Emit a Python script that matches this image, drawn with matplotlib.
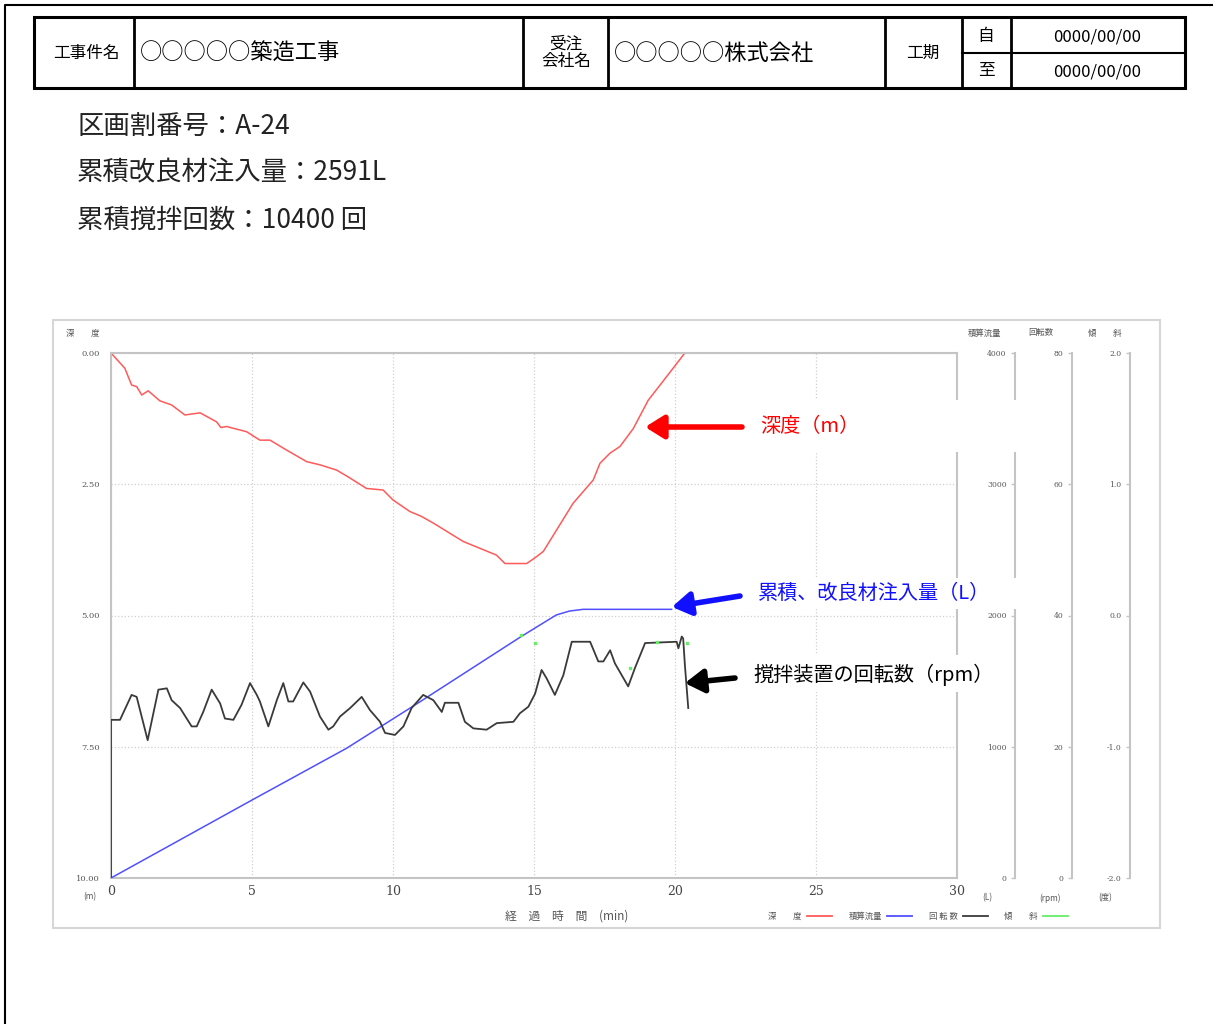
import matplotlib
matplotlib.use("Agg")
import matplotlib.pyplot as plt
from matplotlib.patches import Rectangle
from matplotlib.lines import Line2D

plt.rcParams['font.family'] = ['Noto Sans CJK JP', 'DejaVu Sans']

# depth (m) vs elapsed time (min)
depth_t = [0, 0.49, 0.73, 0.91, 1.09, 1.32, 1.73, 2.15, 2.62, 3.16, 3.74, 3.9, 4.10, 4.81,
           5.28, 5.64, 6.23, 6.94, 7.41, 8.0, 8.41, 9.06, 9.65, 10.0, 10.6, 11.0, 11.43,
           12.49, 13.67, 13.97, 14.74, 15.09, 15.33, 16.39, 17.10, 17.34, 17.69, 18.05,
           18.52, 19.05, 19.5, 20.35]
depth = [0, 0.29, 0.61, 0.64, 0.80, 0.72, 0.91, 0.99, 1.18, 1.14, 1.31, 1.42, 1.40, 1.50,
         1.66, 1.66, 1.85, 2.07, 2.13, 2.23, 2.36, 2.58, 2.61, 2.80, 3.02, 3.11, 3.24,
         3.59, 3.85, 4.01, 4.01, 3.88, 3.78, 2.86, 2.42, 2.10, 1.91, 1.78,
         1.44, 0.90, 0.59, 0]

# cumulative injected volume (L)
vol_t = [0, 5.0, 8.35, 10.96, 14.54, 15.79, 16.26, 16.74, 19.88]
vol = [0, 594, 988, 1343, 1839, 2004, 2034, 2047, 2047]

# mixer rotation (rpm)
rpm_t = [0, 0, 0.32, 0.73, 0.91, 1.30, 1.68, 1.98, 2.15, 2.45, 2.86, 3.04, 3.27, 3.57,
         3.87, 4.04, 4.34, 4.63, 4.93, 5.17, 5.28, 5.58, 5.88, 6.11, 6.29, 6.46, 6.82,
         7.06, 7.41, 7.71, 7.88, 8.12, 8.48, 8.89, 9.18, 9.54, 9.72, 10.07, 10.37, 10.66,
         11.07, 11.43, 11.73, 11.84, 12.32, 12.55, 12.85, 13.32, 13.68, 14.27, 14.50,
         14.80, 15.04, 15.27, 15.45, 15.74, 16.04, 16.34, 16.99, 17.28, 17.46, 17.70,
         17.87, 18.34, 18.58, 18.94, 20.06, 20.12, 20.24, 20.29, 20.35, 20.47]
rpm = [0, 24.1, 24.1, 27.9, 27.6, 21.0, 28.7, 28.9, 27.1, 25.9, 23.1, 23.1, 25.3, 28.7,
       26.6, 24.3, 24.1, 26.4, 29.7, 27.9, 26.9, 23.1, 27.1, 29.7, 26.9, 26.9, 29.8,
       28.4, 24.6, 22.6, 23.1, 24.6, 25.9, 27.6, 25.6, 23.8, 22.1, 21.8, 23.1, 25.9,
       27.9, 27.1, 25.3, 26.7, 26.7, 23.8, 22.8, 22.6, 23.6, 23.8, 25.1,
       26.1, 28.1, 31.7, 30.4, 27.9, 30.9, 36.0, 36.0, 33.0, 33.0, 34.7,
       32.7, 29.2, 32.0, 35.8, 36.0, 35.0, 36.8, 36.5, 32.5, 25.9]

# tilt (deg)
tilt_t = [14.54, 15.04, 18.40, 19.35, 20.41]
tilt = [-0.15, -0.21, -0.40, -0.20, -0.21]

depth_ticks = [0, 2.5, 5, 7.5, 10]
vol_ticks = [0, 1000, 2000, 3000, 4000]
rpm_ticks = [0, 20, 40, 60, 80]
tilt_ticks = [-2.0, -1.0, 0.0, 1.0, 2.0]
time_ticks = [0, 5, 10, 15, 20, 25, 30]

W, H = 1213, 1024
GRAY = '#c4c4c4'
TXT = '#555555'

fig = plt.figure(figsize=(W / 100, H / 100), dpi=100)


def frac(x0, y0, x1, y1):
    return [x0 / W, 1 - y1 / H, (x1 - x0) / W, (y1 - y0) / H]


# main chart (depth)
ax = fig.add_axes(frac(111, 353, 957, 878))
ax.plot(depth_t, depth, color='#ff5a5a', lw=1.1)
ax.set_xlim(0, 30)
ax.set_ylim(10, 0)
ax.set_xticks(time_ticks)
ax.set_yticks(depth_ticks)
ax.set_yticklabels([f'{v:.2f}' for v in depth_ticks])
ax.tick_params(axis='y', length=0, pad=8, labelsize=6, labelcolor=TXT)
ax.tick_params(axis='x', length=0, pad=5, labelsize=9, labelcolor='#444444')
for lab in ax.get_xticklabels() + ax.get_yticklabels():
    lab.set_family('DejaVu Serif')
ax.grid(True, color='#d0d0d0', linestyle=':', lw=0.9)
for sp in ax.spines.values():
    sp.set_color(GRAY)
    sp.set_linewidth(1.5)

ax_v = ax.twinx()
ax_v.plot(vol_t, vol, color='#5050ff', lw=1.1)
ax_v.set_ylim(0, 4000)

ax_r = ax.twinx()
ax_r.plot(rpm_t, rpm, color='#3a3a3a', lw=1.3)
ax_r.set_ylim(0, 80)

ax_t = ax.twinx()
ax_t.plot(tilt_t, tilt, color='#66ee66', linestyle='none', marker='s', ms=1.5)
ax_t.set_ylim(-2, 2)

for a in (ax_v, ax_r, ax_t):
    a.set_yticks([])
    for sp in a.spines.values():
        sp.set_visible(False)

# extra scales on the right
for xpix, lim, ticks, fmt in [(1015, (0, 4000), vol_ticks, '{:.0f}'),
                              (1072, (0, 80), rpm_ticks, '{:.0f}'),
                              (1130, (-2, 2), tilt_ticks, '{:.1f}')]:
    s = fig.add_axes(frac(xpix, 353, xpix + 1, 878))
    s.patch.set_visible(False)
    s.set_ylim(*lim)
    s.set_xticks([])
    s.set_yticks(ticks)
    s.set_yticklabels([fmt.format(v) for v in ticks])
    s.tick_params(axis='y', length=3, width=1, color=GRAY, pad=3,
                  labelsize=5.5, labelcolor=TXT)
    for lab in s.get_yticklabels():
        lab.set_family('DejaVu Serif')
    for k in ('top', 'right', 'bottom'):
        s.spines[k].set_visible(False)
    s.spines['left'].set_color(GRAY)
    s.spines['left'].set_linewidth(1.5)

# legend below the chart
handles = [Line2D([], [], color='#ff5a5a', lw=1.3),
           Line2D([], [], color='#5050ff', lw=1.3),
           Line2D([], [], color='#3a3a3a', lw=1.3),
           Line2D([], [], color='#66ee66', lw=1.3)]
leg = fig.legend(handles, ['深　　度', '積算流量', '回 転 数', '傾　　斜'],
                 loc='center', bbox_to_anchor=(918 / W, 1 - 916 / H), ncol=4,
                 markerfirst=False, frameon=False, fontsize=6, handlelength=3.0,
                 handletextpad=0.6, columnspacing=2.0)
for t in leg.get_texts():
    t.set_color(TXT)

# page layer: frame, header table, notes, annotations
page = fig.add_axes([0, 0, 1, 1])
page.set_xlim(0, W)
page.set_ylim(H, 0)
page.set_axis_off()
page.set_zorder(5)

page.plot([5, 5, W], [H, 5, 5], color='black', lw=1.5)

# header table
page.add_patch(Rectangle((34, 17), 1151, 71, fill=False, ec='black', lw=2.2))
for xc in [134, 523, 608, 885, 962, 1011]:
    page.plot([xc, xc], [17, 88], color='black', lw=2.0)
page.plot([962, 1185], [53, 53], color='black', lw=1.5)

page.text(86, 53, '工事件名', ha='center', va='center', fontsize=12)
page.text(140, 53, '○○○○○築造工事', ha='left', va='center', fontsize=16)
page.text(566, 53, '受注\n会社名', ha='center', va='center', fontsize=12,
          linespacing=1.0)
page.text(614, 53, '○○○○○株式会社', ha='left', va='center', fontsize=16)
page.text(923, 53, '工期', ha='center', va='center', fontsize=12)
page.text(986, 36, '自', ha='center', va='center', fontsize=12)
page.text(986, 71, '至', ha='center', va='center', fontsize=12)
page.text(1097, 37, '0000/00/00', ha='center', va='center', fontsize=12)
page.text(1097, 72, '0000/00/00', ha='center', va='center', fontsize=12)

# notes
for i, line in enumerate(['区画割番号：A-24', '累積改良材注入量：2591L', '累積撹拌回数：10400 回']):
    page.text(77, 126 + 47 * i, line, ha='left', va='center', fontsize=19, color='#222222')

# chart frame and axis captions
page.add_patch(Rectangle((53, 320), 1107, 608, fill=False, ec='#d6d6d6', lw=1.5))
for x, y, s in [(83, 333, '深　　度'), (985, 333, '積算流量'), (1041, 333, '回転数'),
                (1105, 333, '傾　　斜'), (90, 897, '(m)'), (987, 898, '(L)'),
                (1050, 898, '(rpm)'), (1105, 898, '(度)')]:
    page.text(x, y, s, ha='center', va='center', fontsize=6, color=TXT)
page.text(567, 916, '経　過　時　間　(min)', ha='center', va='center', fontsize=8.5,
          color=TXT)

# annotations
page.add_patch(Rectangle((745, 400), 323, 52, fc='white', ec='none'))
page.add_patch(Rectangle((745, 578), 275, 31, fc='white', ec='none'))
page.add_patch(Rectangle((745, 655), 258, 37, fc='white', ec='none'))

page.text(760, 427, '深度（m）', color='red', fontsize=14.5, va='center')
page.text(758, 593, '累積、改良材注入量（L）', color='#1010ff', fontsize=14.5, va='center')
page.text(753, 675, '撹拌装置の回転数（rpm）', color='black', fontsize=14.5, va='center')

arrow = dict(arrowstyle='-|>,head_length=0.8,head_width=0.5', lw=4,
             shrinkA=0, shrinkB=0, mutation_scale=14)
page.annotate('', xy=(18.94, 1.41), xycoords=ax.transData, xytext=(742, 427),
              textcoords='data', arrowprops=dict(arrow, color='red'))
page.annotate('', xy=(19.89, 2065), xycoords=ax_v.transData, xytext=(740, 596),
              textcoords='data', arrowprops=dict(arrow, color='#1010ff'))
page.annotate('', xy=(20.35, 29.7), xycoords=ax_r.transData, xytext=(735, 678),
              textcoords='data', arrowprops=dict(arrow, color='black'))

fig.savefig('out.png', dpi=100)
